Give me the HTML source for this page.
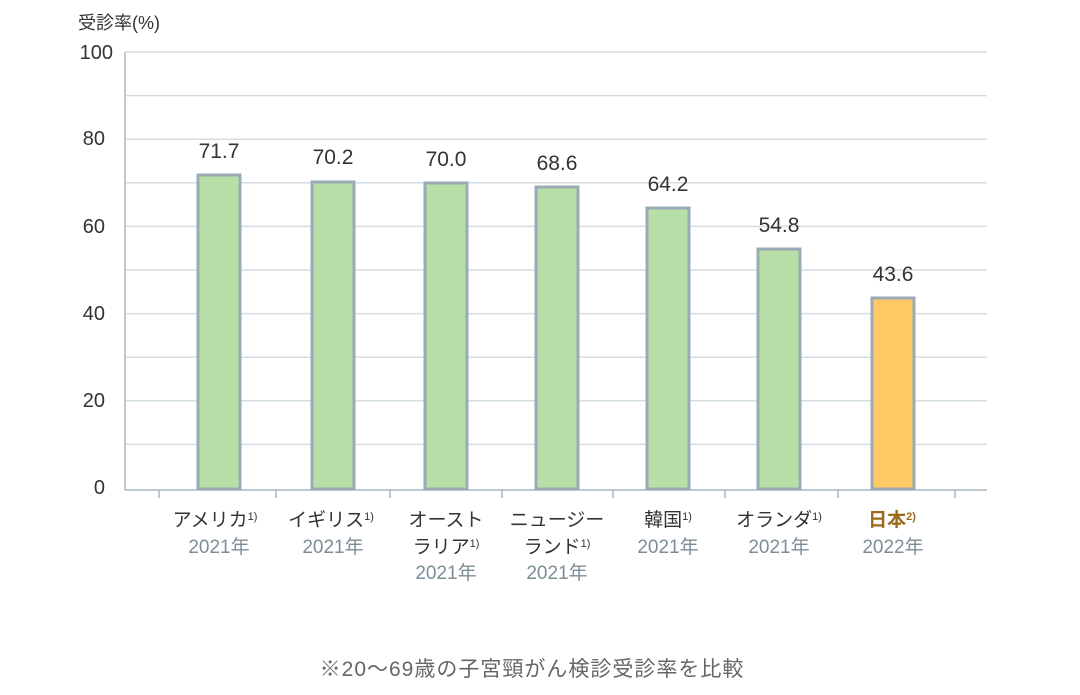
<!DOCTYPE html>
<html><head><meta charset="utf-8"><style>
body{margin:0;background:#fff;}
text{font-family:"Liberation Sans","Noto Sans CJK JP",sans-serif;}
</style></head><body>
<svg width="1080" height="690" xmlns="http://www.w3.org/2000/svg">
<g stroke="#d3dde2" stroke-width="1.5">
<line x1="125" x2="987" y1="52" y2="52"/><line x1="125" x2="987" y1="95.6" y2="95.6"/>
<line x1="125" x2="987" y1="139.2" y2="139.2"/><line x1="125" x2="987" y1="182.8" y2="182.8"/>
<line x1="125" x2="987" y1="226.4" y2="226.4"/><line x1="125" x2="987" y1="270" y2="270"/>
<line x1="125" x2="987" y1="313.6" y2="313.6"/><line x1="125" x2="987" y1="357.2" y2="357.2"/>
<line x1="125" x2="987" y1="400.8" y2="400.8"/><line x1="125" x2="987" y1="444.4" y2="444.4"/>
</g>
<g stroke="#a9b9c1" stroke-width="1.5">
<line x1="125" x2="125" y1="52" y2="490"/>
<line x1="125" x2="987" y1="490" y2="490"/>
<line x1="159" x2="159" y1="490" y2="498"/><line x1="276" x2="276" y1="490" y2="498"/>
<line x1="390" x2="390" y1="490" y2="498"/><line x1="502" x2="502" y1="490" y2="498"/>
<line x1="613" x2="613" y1="490" y2="498"/><line x1="725" x2="725" y1="490" y2="498"/>
<line x1="838" x2="838" y1="490" y2="498"/><line x1="955" x2="955" y1="490" y2="498"/>
</g>
<g font-size="20" fill="#333" text-anchor="end">
<text x="113" y="59">100</text><text x="105" y="145">80</text><text x="105" y="233">60</text>
<text x="105" y="320">40</text><text x="105" y="407">20</text><text x="105" y="494">0</text>
</g>
<text x="78" y="29" font-size="18" fill="#333">受診率(%)</text>
<g stroke="#9aabb5" stroke-width="3" fill="#b9dfa8">
<rect x="198" y="175" width="42" height="314"/>
<rect x="312" y="182" width="42" height="307"/>
<rect x="425" y="183" width="42" height="306"/>
<rect x="536" y="187" width="42" height="302"/>
<rect x="647" y="208" width="42" height="281"/>
<rect x="758" y="249" width="42" height="240"/>
<rect x="872" y="298" width="42" height="191" fill="#ffc966"/>
</g>
<g font-size="21" fill="#333" text-anchor="middle">
<text x="219" y="158">71.7</text><text x="333" y="164">70.2</text><text x="446" y="166">70.0</text>
<text x="557" y="170">68.6</text><text x="668" y="191">64.2</text><text x="779" y="232">54.8</text>
<text x="893" y="281">43.6</text>
</g>
<g font-size="19" fill="#333" text-anchor="middle">
<text x="215" y="526">アメリカ<tspan font-size="11" dy="-6">1)</tspan></text>
<text x="331" y="526">イギリス<tspan font-size="11" dy="-6">1)</tspan></text>
<text x="446" y="526">オースト</text>
<text x="446" y="553">ラリア<tspan font-size="11" dy="-6">1)</tspan></text>
<text x="557" y="526">ニュージー</text>
<text x="557" y="553">ランド<tspan font-size="11" dy="-6">1)</tspan></text>
<text x="668" y="526">韓国<tspan font-size="11" dy="-6">1)</tspan></text>
<text x="779" y="526">オランダ<tspan font-size="11" dy="-6">1)</tspan></text>
<text x="892" y="526" fill="#9a6a1a" font-weight="bold">日本<tspan font-size="11" dy="-6">2)</tspan></text>
</g>
<g font-size="19" fill="#7d8d96" text-anchor="middle">
<text x="219" y="553">2021年</text><text x="333" y="553">2021年</text>
<text x="446" y="579">2021年</text><text x="557" y="579">2021年</text>
<text x="668" y="553">2021年</text><text x="779" y="553">2021年</text>
<text x="893" y="553">2022年</text>
</g>
<text x="532" y="676" font-size="21" letter-spacing="1" fill="#666" text-anchor="middle">※20〜69歳の子宮頸がん検診受診率を比較</text>
</svg>
</body></html>
